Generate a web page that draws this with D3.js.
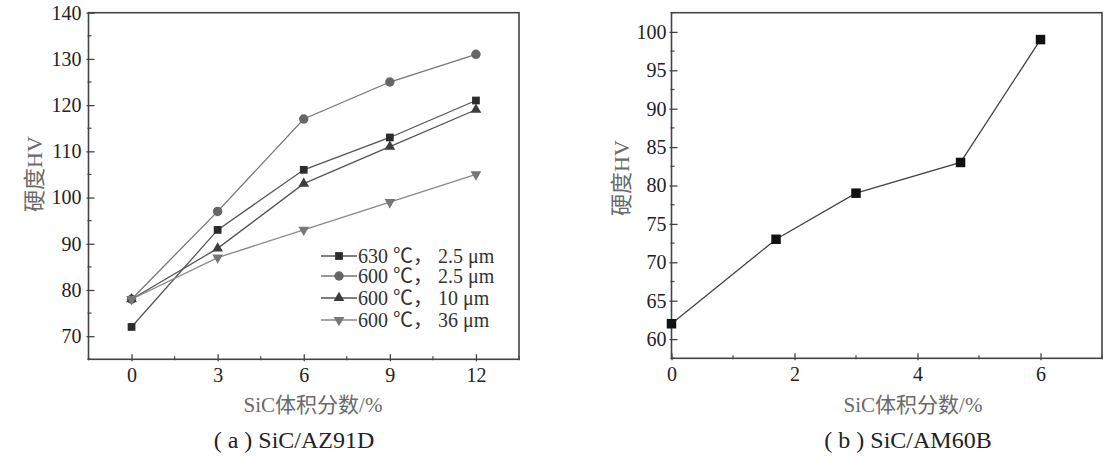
<!DOCTYPE html>
<html><head><meta charset="utf-8">
<script src="https://cdn.jsdelivr.net/npm/d3@7"></script>
<style>
body{margin:0;background:#fff;}
text{font-family:"Liberation Serif","Noto Sans CJK SC",serif;}
</style></head>
<body><svg id="c" width="1107" height="465"></svg>
<script>
// ---- data (a) SiC/AZ91D ----
const xA = [0, 3, 6, 9, 12];
const s630_25 = [72, 93, 106, 113, 121];
const s600_25 = [78, 97, 117, 125, 131];
const s600_10 = [78, 89, 103, 111, 119];
const s600_36 = [78, 87, 93, 99, 105];
const legendA = ["630 ℃， 2.5 μm", "600 ℃， 2.5 μm", "600 ℃， 10 μm", "600 ℃， 36 μm"];
const xTicksA = [0, 3, 6, 9, 12];
const yTicksA = [70, 80, 90, 100, 110, 120, 130, 140];
// ---- data (b) SiC/AM60B ----
const xB = [0, 1.7, 3, 4.7, 6];
const sB = [62, 73, 79, 83, 99];
const xTicksB = [0, 2, 4, 6];
const yTicksB = [60, 65, 70, 75, 80, 85, 90, 95, 100];

const svg = d3.select("#c");
const fmt = d3.format("d");

function panel(o){
  const g = svg.append("g");
  const x = d3.scaleLinear().domain(o.xd).range(o.xr);
  const y = d3.scaleLinear().domain(o.yd).range(o.yr);
  const frameCol = "#444";
  const xMinor = d3.range(o.xd[0], o.xd[1] + 1e-9, o.xMinorStep).filter(v => !o.xTicks.some(t => Math.abs(t - v) < 1e-9));
  const yMinor = d3.range(o.yd[0], o.yd[1] + 1e-9, o.yMinorStep).filter(v => !o.yTicks.some(t => Math.abs(t - v) < 1e-9));
  const bottom = o.yr[0], left = o.xr[0];
  g.selectAll(".xmin").data(xMinor).join("line")
    .attr("x1", d => x(d)).attr("x2", d => x(d)).attr("y1", bottom - 3).attr("y2", bottom + 1)
    .attr("stroke", frameCol).attr("stroke-width", 1.2);
  g.selectAll(".ymin").data(yMinor).join("line")
    .attr("y1", d => y(d)).attr("y2", d => y(d)).attr("x1", left - 1).attr("x2", left + 3)
    .attr("stroke", frameCol).attr("stroke-width", 1.2);
  const ax = g.append("g").attr("transform", `translate(0,${bottom})`)
    .call(d3.axisBottom(x).tickValues(o.xTicks).tickFormat(fmt).tickSizeInner(-5).tickSizeOuter(0));
  ax.select(".domain").remove();
  ax.selectAll("line").attr("stroke", frameCol).attr("stroke-width", 1.3).attr("y2", -5).attr("y1", 2);
  ax.selectAll("text").attr("font-size", 20).attr("fill", "#222").attr("dy", null)
    .attr("dominant-baseline", "central").attr("y", 16)
    .style("font-family", '"Liberation Serif",serif');
  const ay = g.append("g").attr("transform", `translate(${left},0)`)
    .call(d3.axisLeft(y).tickValues(o.yTicks).tickFormat(fmt).tickSizeInner(-6).tickSizeOuter(0));
  ay.select(".domain").remove();
  ay.selectAll("line").attr("stroke", frameCol).attr("stroke-width", 1.3).attr("x2", 6).attr("x1", -2);
  ay.selectAll("text").attr("font-size", 20).attr("fill", "#222").attr("x", -o.yPad)
    .style("font-family", '"Liberation Serif",serif');
  g.append("rect").attr("x", o.xr[0]).attr("y", o.yr[1]).attr("width", o.xr[1] - o.xr[0]).attr("height", o.yr[0] - o.yr[1])
    .attr("fill", "none").attr("stroke", frameCol).attr("stroke-width", 1.6);
  o.series.forEach(s => {
    const pts = o.xs.map((xv, i) => [xv, s.values[i]]);
    g.append("path").datum(pts)
      .attr("d", d3.line().x(d => x(d[0])).y(d => y(d[1])))
      .attr("fill", "none").attr("stroke", s.line).attr("stroke-width", 1.3);
  });
  o.series.forEach(s => {
    const pts = o.xs.map((xv, i) => [xv, s.values[i]]);
    g.selectAll(null).data(pts).join("path")
      .attr("d", d3.symbol().type(s.sym).size(s.size))
      .attr("transform", d => `translate(${x(d[0])},${y(d[1])})` + (s.rot ? " rotate(180)" : ""))
      .attr("fill", s.mark);
  });
  g.append("text").attr("x", o.xTitle[0]).attr("y", o.xTitle[1]).attr("text-anchor", "middle")
    .attr("dominant-baseline", "central").attr("font-size", 21).attr("fill", "#6a6a6a").text("SiC体积分数/%");
  g.append("text").attr("transform", `translate(${o.yTitle[0]},${o.yTitle[1]}) rotate(-90)`).attr("text-anchor", "middle")
    .attr("dominant-baseline", "central").attr("font-size", 22).attr("fill", "#6a6a6a").text("硬度HV");
  g.append("text").attr("x", o.cap[0]).attr("y", o.cap[1]).attr("text-anchor", "middle")
    .attr("dominant-baseline", "central").attr("font-size", 24).attr("fill", "#222").text(o.capText);
  return {g, x, y};
}

const seriesA = [
  {values: s630_25, sym: d3.symbolSquare, size: 60, mark: "#2b2b2b", line: "#555"},
  {values: s600_25, sym: d3.symbolCircle, size: 70, mark: "#666", line: "#777"},
  {values: s600_10, sym: d3.symbolTriangle, size: 50, mark: "#3d3d3d", line: "#555"},
  {values: s600_36, sym: d3.symbolTriangle, size: 50, mark: "#777", line: "#888", rot: true}
];

const pa = panel({
  xd: [-1.5, 13.5], xr: [88.5, 519], yd: [65, 140], yr: [359.3, 12.7],
  xTicks: xTicksA, yTicks: yTicksA, xMinorStep: 1.5, yMinorStep: 5, yPad: 7,
  xs: xA, series: seriesA,
  xTitle: [313, 405], yTitle: [34, 174], cap: [294, 440], capText: "( a ) SiC/AZ91D"
});

const lg = pa.g.append("g");
const ly = [256, 276, 298, 320];
seriesA.forEach((s, i) => {
  lg.append("line").attr("x1", 321).attr("x2", 357).attr("y1", ly[i]).attr("y2", ly[i])
    .attr("stroke", s.line).attr("stroke-width", 1.3);
  lg.append("path").attr("d", d3.symbol().type(s.sym).size(s.size))
    .attr("transform", `translate(339,${ly[i]})` + (s.rot ? " rotate(180)" : "")).attr("fill", s.mark);
  lg.append("text").attr("x", 358).attr("y", ly[i]).attr("dominant-baseline", "central")
    .attr("font-size", 20).attr("fill", "#333").text(legendA[i]);
});

panel({
  xd: [0, 7], xr: [671.5, 1102], yd: [57.5, 102.5], yr: [358.3, 12.7],
  xTicks: xTicksB, yTicks: yTicksB, xMinorStep: 1, yMinorStep: 2.5, yPad: 5,
  xs: xB, series: [{values: sB, sym: d3.symbolSquare, size: 90, mark: "#111", line: "#444"}],
  xTitle: [913, 405], yTitle: [621, 178], cap: [908, 440], capText: "( b ) SiC/AM60B"
});
</script>
</body></html>
